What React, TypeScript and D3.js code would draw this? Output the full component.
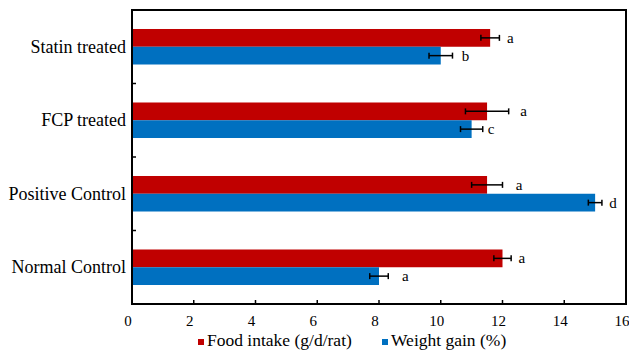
import React from 'react';
import * as d3 from 'd3';

// groups from top to bottom
const categories = ['Statin treated', 'FCP treated', 'Positive Control', 'Normal Control'];
const seriesNames = ['Food intake (g/d/rat)', 'Weight gain (%)'];
const foodIntake = [11.6, 11.5, 11.5, 12.0];
const foodErr = [0.3, 0.7, 0.5, 0.28];
const weightGain = [10.0, 11.0, 15.0, 8.0];
const weightErr = [0.38, 0.36, 0.22, 0.3];
const foodLetters = ['a', 'a', 'a', 'a'];
const weightLetters = ['b', 'c', 'd', 'a'];
// where the significance letters sit, in axis units
const foodLetterAt = [12.25, 12.68, 12.54, 12.63];
const weightLetterAt = [10.8, 11.63, 15.58, 8.85];
const xTicks = [0, 2, 4, 6, 8, 10, 12, 14, 16];

const W = 629;
const H = 355;
const margin = { top: 10, right: 3, bottom: 51, left: 132 };
const colors = ['#C00000', '#0070C0'];
const serif = { fontFamily: "'Liberation Serif', 'Times New Roman', serif" };

const App: React.FC = () => {
	const innerW = W - margin.left - margin.right;
	const innerH = H - margin.top - margin.bottom;

	const x = d3.scaleLinear().domain([0, 16]).range([0, innerW]);
	const y = d3.scaleBand<string>().domain(categories).range([0, innerH]).padding(0);
	const inner = d3
		.scaleBand<string>()
		.domain(seriesNames)
		.range([0, y.bandwidth()])
		.paddingInner(0)
		.paddingOuter(1.07);

	const series = [
		{ name: seriesNames[0], values: foodIntake, errs: foodErr, letters: foodLetters, at: foodLetterAt },
		{ name: seriesNames[1], values: weightGain, errs: weightErr, letters: weightLetters, at: weightLetterAt },
	];

	const bh = inner.bandwidth();
	const cap = 3;

	return (
		<svg width={W} height={H} style={{ position: 'absolute', left: 0, top: 0, background: '#fff' }}>
			<g transform={`translate(${margin.left},${margin.top})`}>
				{series.map((s, si) => (
					<g key={s.name}>
						{categories.map((c, i) => {
							const y0 = (y(c) as number) + (inner(s.name) as number);
							const cy = y0 + bh / 2;
							const lo = x(s.values[i] - s.errs[i]);
							const hi = x(s.values[i] + s.errs[i]);
							return (
								<g key={c}>
									<rect x={0} y={y0} width={x(s.values[i])} height={bh} fill={colors[si]} />
									<line x1={lo} x2={hi} y1={cy} y2={cy} stroke="#000" strokeWidth={1.5} />
									<line x1={lo} x2={lo} y1={cy - cap} y2={cy + cap} stroke="#000" strokeWidth={1.5} />
									<line x1={hi} x2={hi} y1={cy - cap} y2={cy + cap} stroke="#000" strokeWidth={1.5} />
									<text x={x(s.at[i])} y={cy + 5} fontSize={15} textAnchor="middle" fill="#000" style={serif}>
										{s.letters[i]}
									</text>
								</g>
							);
						})}
					</g>
				))}

				{/* frame */}
				<rect x={0} y={0} width={innerW} height={innerH} fill="none" stroke="#000" strokeWidth={2} />

				{/* y ticks between groups */}
				{categories.slice(1).map((c) => (
					<line key={c} x1={0} x2={4} y1={y(c) as number} y2={y(c) as number} stroke="#000" strokeWidth={1.5} />
				))}
				{categories.map((c) => (
					<text
						key={c}
						x={-6}
						y={(y(c) as number) + y.bandwidth() / 2 + 6}
						fontSize={18}
						textAnchor="end"
						fill="#000"
						style={serif}
					>
						{c}
					</text>
				))}

				{/* x axis, labels sit a little left of their ticks as in the original */}
				{xTicks.map((t) => (
					<g key={t}>
						{t > 0 && t < 16 && (
							<line x1={x(t)} x2={x(t)} y1={innerH} y2={innerH - 4} stroke="#000" strokeWidth={1.5} />
						)}
						<text x={x(t) - 4} y={innerH + 22} fontSize={15} textAnchor="middle" fill="#000" style={serif}>
							{t}
						</text>
					</g>
				))}
			</g>

			{/* legend */}
			<g transform={`translate(198,339)`}>
				<rect x={0} y={0} width={6} height={6} fill={colors[0]} />
				<text x={9} y={7} fontSize={17.5} fill="#000" style={serif}>
					{seriesNames[0]}
				</text>
				<rect x={184} y={0} width={6} height={6} fill={colors[1]} />
				<text x={193} y={7} fontSize={17.5} fill="#000" style={serif}>
					{seriesNames[1]}
				</text>
			</g>
		</svg>
	);
};

export default App;
